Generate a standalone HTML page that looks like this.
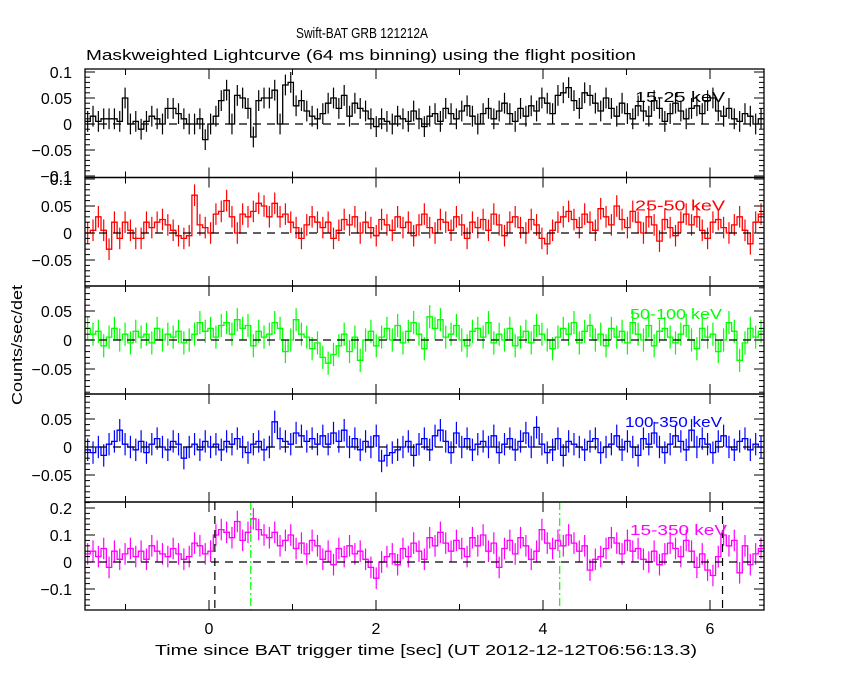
<!DOCTYPE html>
<html><head><meta charset="utf-8"><style>
body{margin:0;background:#fff;}
svg{display:block;font-family:"Liberation Sans",sans-serif;}
</style></head><body>
<svg id="chart" width="850" height="680" viewBox="0 0 850 680" xmlns="http://www.w3.org/2000/svg">
<rect width="850" height="680" fill="#fff"/>
<text x="296" y="38" font-size="15" textLength="132" lengthAdjust="spacingAndGlyphs">Swift-BAT GRB 121212A</text>
<text x="86" y="60" font-size="15" textLength="550" lengthAdjust="spacingAndGlyphs">Maskweighted Lightcurve (64 ms binning) using the flight position</text>
<text x="0" y="0" font-size="15" textLength="120" lengthAdjust="spacingAndGlyphs" transform="translate(22 405) rotate(-90)">Counts/sec/det</text>
<text x="155" y="655" font-size="15" textLength="542" lengthAdjust="spacingAndGlyphs">Time since BAT trigger time [sec] (UT 2012-12-12T06:56:13.3)</text>
<g id="plots"></g>
</svg>
<script>
const binStart = -1.485;
const binWidth = 0.064;
const xTicks = [0, 2, 4, 6];
const band1 = [5,15,5,10,10,10,5,50,0,5,-10,5,15,10,0,30,30,20,10,0,0,10,-30,0,15,45,65,0,55,50,30,-25,45,50,50,65,0,75,80,35,45,25,15,10,20,40,50,30,55,15,40,30,25,10,-5,10,5,0,15,10,5,25,10,-5,15,20,5,30,20,10,25,35,15,0,20,30,10,25,40,20,5,30,15,35,25,50,40,20,55,60,70,45,30,60,55,40,25,50,30,15,40,20,10,35,25,15,45,30,5,20,40,25,10,30,35,20,45,50,25,15,30,10,5,20,15,0,10];
const band2 = [0,5,30,5,-30,20,-10,20,5,-10,-10,20,10,20,25,15,5,-5,-10,-5,70,15,10,0,35,40,60,30,0,35,30,40,55,50,30,55,30,35,20,10,-10,15,30,20,10,20,-10,5,25,15,30,0,20,10,-5,25,15,5,30,10,20,-5,15,35,10,0,25,20,5,30,15,-10,20,10,25,5,35,15,-5,20,30,10,0,25,15,-10,-20,5,20,30,40,25,10,35,20,5,45,30,15,50,25,10,40,20,0,30,15,-15,25,10,-5,20,35,15,30,5,-10,20,25,10,0,15,30,5,-20,20,35];
const band3 = [20,10,15,-10,5,20,0,10,-5,15,5,10,-5,20,0,10,5,15,-5,0,10,30,15,20,5,25,30,10,35,20,25,-10,15,5,10,30,20,-20,0,35,10,5,-15,-5,-30,-40,-25,-10,10,-20,5,-35,0,15,-10,5,20,0,25,-5,15,30,10,-15,40,20,35,5,10,25,0,-10,15,20,5,30,-5,10,0,20,-10,5,15,-5,25,10,0,-15,5,20,10,30,-5,15,25,0,10,-10,20,5,15,-5,30,10,0,25,-10,15,20,5,-5,10,25,0,-15,20,5,10,-20,0,30,15,-35,-5,20,5,15];
const band4 = [-5,-10,0,-15,5,10,30,5,0,-5,10,-10,5,15,0,-5,10,5,-20,0,5,-5,10,0,5,-5,10,5,15,0,-10,5,10,-5,0,45,15,10,5,25,20,10,15,5,20,5,25,10,30,0,15,-5,10,0,20,-25,-15,-10,-5,0,10,-15,5,15,-5,20,30,10,-10,25,0,15,-5,5,10,0,20,-10,5,15,-5,10,25,0,35,5,-10,-5,15,-15,10,5,0,-5,10,15,-10,0,5,20,-5,10,0,-15,15,5,25,0,-10,5,20,10,-5,30,0,15,5,-10,10,20,0,-5,10,15,-5,5,0];
const band5 = [30,40,20,50,-20,40,10,30,50,20,40,10,60,40,30,20,50,30,10,20,70,60,30,40,100,120,110,90,150,80,110,160,120,100,90,110,60,80,100,50,70,30,80,60,10,40,-10,50,20,60,30,40,10,-20,-60,0,20,30,-10,50,20,70,40,10,90,60,110,70,40,80,50,20,90,60,100,40,70,-20,50,80,30,90,60,10,40,120,70,50,80,60,100,70,40,60,-30,10,20,50,90,70,30,80,40,50,10,0,40,-10,30,70,50,20,80,40,-20,30,-30,-50,20,100,60,80,-40,60,-10,30,50];
const errs = [20,20,20,20,40];
const bandLabels = ["15-25 keV","25-50 keV","50-100 keV","100-350 keV","15-350 keV"];
const colors = ["#000","#f00","#0f0","#00f","#f0f"];
const yTickLabels = [["0.1","0.05","0","-0.05","-0.1"],["0.1","0.05","0","-0.05"],["0.05","0","-0.05"],["0.05","0","-0.05"],["0.2","0.1","0","-0.1"]];
const yTickValues = [[0.1,0.05,0,-0.05,-0.1],[0.1,0.05,0,-0.05],[0.05,0,-0.05],[0.05,0,-0.05],[0.2,0.1,0,-0.1]];
const blackLines = [0.07, 6.15];
const greenLines = [0.5, 4.2];

const L=85,R=764,X0=209,PXS=83.5;
const tops=[69,177.5,286,394,502,610];
const zeros=[124,233,340,447,562];
const scales=[520,540,580,560,270];
const minorStep=[0.01,0.01,0.01,0.01,0.02];
const labelX=[635,635,630,625,630];
const labelW=[90,90,92,97,97];
const series=[band1,band2,band3,band4,band5];
const NS="http://www.w3.org/2000/svg";
const g=document.getElementById('plots');
function xs(t){return X0+t*PXS;}
function mk(tag,attrs,parent){const e=document.createElementNS(NS,tag);for(const k in attrs)e.setAttribute(k,attrs[k]);(parent||g).appendChild(e);return e;}
for(let p=0;p<5;p++){
  const top=tops[p],bot=tops[p+1];
  const ys=v=>zeros[p]-v*scales[p];
  const pg=mk('g',{});
  
  
  const cid='clip'+p;
  const cp=mk('clipPath',{id:cid},pg);mk('rect',{x:L,y:top,width:R-L,height:bot-top},cp);
  const data=series[p];const e=errs[p]/1000;
  let d='';
  const eg=mk('g',{'clip-path':'url(#'+cid+')'},pg);
  for(let i=0;i<data.length;i++){
    const t0=binStart+i*binWidth,v=data[i]/1000;
    const x1=xs(t0),x2=xs(t0+binWidth),y=ys(v);
    d+=(i===0?'M':'L')+x1.toFixed(1)+','+y.toFixed(1)+'L'+x2.toFixed(1)+','+y.toFixed(1);
    const xm=(x1+x2)/2;
    const eb=mk('line',{x1:xm,x2:xm,y1:ys(v+e),y2:ys(v-e),stroke:colors[p],'stroke-width':1.2},eg);
    
    
  }
  const path=mk('path',{d:d,fill:'none',stroke:colors[p],'stroke-width':1.3},eg);
  
  
  mk('line',{x1:L,x2:R,y1:zeros[p],y2:zeros[p],stroke:'#000','stroke-dasharray':'8,6','stroke-width':1.2},pg);
  if(p===4){
    blackLines.forEach(t=>{mk('line',{x1:xs(t),x2:xs(t),y1:top,y2:bot,stroke:'#000','stroke-dasharray':'8,6','stroke-width':1.2},pg);});
    greenLines.forEach(t=>{mk('line',{x1:xs(t),x2:xs(t),y1:top,y2:bot,stroke:'#0f0','stroke-dasharray':'8,3,2,3','stroke-width':1.2},pg);});
  }
  mk('rect',{x:L,y:top,width:R-L,height:bot-top,fill:'none',stroke:'#000','stroke-width':1.3},pg);
  for(let t=-1;t<=6;t++){
    const x=xs(t),len=(t%2===0)?10:6;
    mk('line',{x1:x,x2:x,y1:top,y2:top+len,stroke:'#000'},pg);
    mk('line',{x1:x,x2:x,y1:bot,y2:bot-len,stroke:'#000'},pg);
  }
  const ms=minorStep[p];
  for(let k=-20;k<=20;k++){
    const v=k*ms,y=ys(v);
    if(y<top||y>bot)continue;
    const major=yTickValues[p].some(tv=>Math.abs(tv-v)<1e-9);
    const len=major?10:5;
    mk('line',{x1:L,x2:L+len,y1:y,y2:y,stroke:'#000'},pg);
    mk('line',{x1:R,x2:R-len,y1:y,y2:y,stroke:'#000'},pg);
  }
  yTickLabels[p].forEach((lab,j)=>{
    const tx=mk('text',{x:72,y:ys(yTickValues[p][j])+6,'font-size':16,'text-anchor':'end'},pg);
    tx.textContent=lab.replace('-','\u2212');
    
    
  });
  const bl=mk('text',{x:labelX[p],y:top+33,'font-size':15,fill:colors[p],textLength:labelW[p],lengthAdjust:'spacingAndGlyphs'},pg);
  bl.textContent=bandLabels[p];
  
  
}
xTicks.forEach(t=>{
  const tx=mk('text',{x:xs(t),y:634,'font-size':16,'text-anchor':'middle'});
  tx.textContent=t;
  
  
});
</script>
</body></html>
